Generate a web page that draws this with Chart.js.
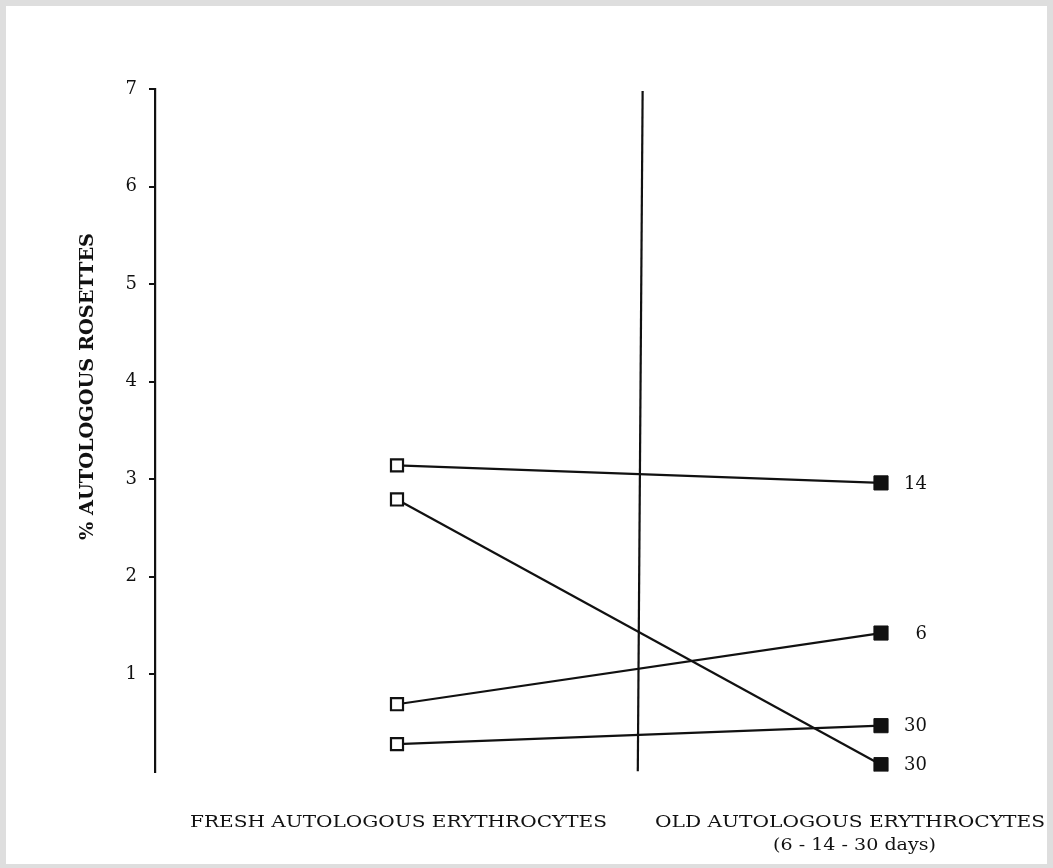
<!DOCTYPE html>
<html>
<head>
<meta charset="utf-8">
<script src="https://cdn.jsdelivr.net/npm/chart.js@4/dist/chart.umd.min.js"></script>
<style>
  html, body { margin: 0; padding: 0; background: #ffffff; }
  #wrap { width: 1053px; height: 868px; }
</style>
</head>
<body>
<div id="wrap"><canvas id="c" width="1053" height="868"></canvas></div>
<script>
// ---- data ----
const categories = ['FRESH AUTOLOGOUS ERYTHROCYTES', 'OLD AUTOLOGOUS ERYTHROCYTES'];
const categorySubtitle = '(6 - 14 - 30 days)';
const categoryX = [1, 3];
const freshValues = [3.14, 2.79, 0.69, 0.28];
const oldValues = [2.96, 0.07, 1.42, 0.47];
const ageLabels = ['14', '30', '6', '30'];
const yTicks = [1, 2, 3, 4, 5, 6, 7];
const yTitle = '% AUTOLOGOUS ROSETTES';
const dividerX = [2.015, 1.995];
const dividerY = [6.98, 0];

const SERIF = '"DejaVu Serif", "Liberation Serif", serif';
const INK = '#111111';

const datasets = freshValues.map((f, i) => ({
  label: 'patient ' + (i + 1),
  data: [{ x: categoryX[0], y: f }, { x: categoryX[1], y: oldValues[i] }],
  borderColor: INK,
  borderWidth: 2.2,
  pointStyle: 'rect',
  pointRadius: [8.5, 10],
  pointBorderWidth: [2.2, 1],
  pointBorderColor: INK,
  pointBackgroundColor: ['#ffffff', INK],
  ageLabel: ageLabels[i],
  tension: 0
}));
datasets.push({
  label: 'divider',
  data: [{ x: dividerX[0], y: dividerY[0] }, { x: dividerX[1], y: dividerY[1] }],
  borderColor: INK,
  borderWidth: 2.2,
  pointRadius: 0,
  tension: 0
});

function fitText(ctx, text, left, baseline, width, font) {
  ctx.font = font;
  const w = ctx.measureText(text).width;
  const s = width / w;
  ctx.save();
  ctx.translate(left, baseline);
  ctx.scale(s, 1);
  ctx.textAlign = 'left';
  ctx.textBaseline = 'alphabetic';
  ctx.fillText(text, 0, 0);
  ctx.restore();
}

const paperPlugin = {
  id: 'paper',
  beforeDraw(chart) {
    const ctx = chart.ctx;
    ctx.save();
    ctx.fillStyle = '#dedede';
    ctx.fillRect(0, 0, chart.width, chart.height);
    ctx.fillStyle = '#ffffff';
    ctx.fillRect(6, 6, chart.width - 12, chart.height - 10);
    ctx.restore();
  }
};

const textPlugin = {
  id: 'texts',
  afterDraw(chart) {
    const ctx = chart.ctx;
    const xs = chart.scales.x, ys = chart.scales.y;
    ctx.save();
    ctx.fillStyle = INK;
    // age labels beside old points
    chart.data.datasets.forEach((ds) => {
      if (!ds.ageLabel) return;
      const p = ds.data[1];
      ctx.font = '18px ' + SERIF;
      ctx.textAlign = 'right';
      ctx.textBaseline = 'middle';
      ctx.fillText(ds.ageLabel, xs.getPixelForValue(p.x) + 46, ys.getPixelForValue(p.y) + 1);
    });
    // category labels
    fitText(ctx, categories[0], 190, 827, 417, '16px ' + SERIF);
    fitText(ctx, categories[1], 655, 827, 390, '16px ' + SERIF);
    fitText(ctx, categorySubtitle, 773, 850, 163, '16px ' + SERIF);
    // y title (rotated)
    ctx.save();
    ctx.translate(93, 540);
    ctx.rotate(-Math.PI / 2);
    fitText(ctx, yTitle, 0, 0, 307, 'bold 19px ' + SERIF);
    ctx.restore();
    ctx.restore();
  }
};

new Chart(document.getElementById('c'), {
  type: 'line',
  data: { datasets },
  options: {
    responsive: false,
    animation: false,
    events: [],
    layout: { padding: { top: 89, bottom: 96.5, left: 0, right: 51 } },
    plugins: { legend: { display: false }, tooltip: { enabled: false } },
    scales: {
      x: { type: 'linear', display: false, min: 0, max: 3.5 },
      y: {
        type: 'linear',
        min: 0,
        max: 7,
        afterFit(scale) { scale.width = 155; },
        afterBuildTicks(scale) { scale.ticks = [0].concat(yTicks).map(v => ({ value: v })); },
        ticks: {
          padding: 12,
          color: INK,
          font: { family: SERIF, size: 18 },
          callback: (v) => (v === 0 ? '' : String(v))
        },
        grid: {
          drawOnChartArea: false,
          drawTicks: true,
          tickLength: 6,
          lineWidth: 2,
          color: (c) => (c.tick && c.tick.value === 0 ? 'rgba(0,0,0,0)' : INK)
        },
        border: { display: true, color: INK, width: 2.2 }
      }
    }
  },
  plugins: [paperPlugin, textPlugin]
});
</script>
</body>
</html>
